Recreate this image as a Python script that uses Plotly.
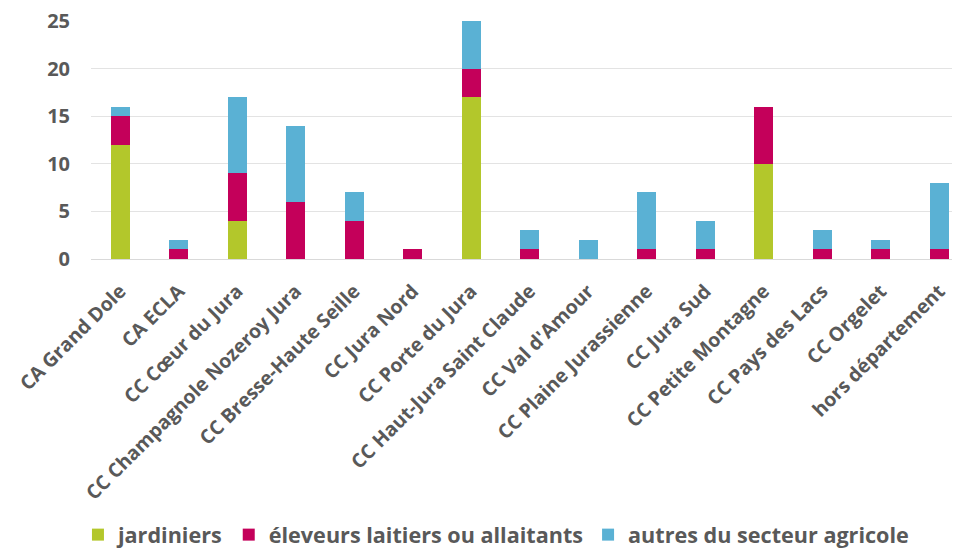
import plotly.graph_objects as go

categories = ["CA Grand Dole", "CA ECLA", "CC Cœur du Jura", "CC Champagnole Nozeroy Jura",
              "CC Bresse-Haute Seille", "CC Jura Nord", "CC Porte du Jura",
              "CC Haut-Jura Saint Claude", "CC Val d'Amour", "CC Plaine Jurassienne",
              "CC Jura Sud", "CC Petite Montagne", "CC Pays des Lacs", "CC Orgelet",
              "hors département"]
jardiniers = [12, 0, 4, 0, 0, 0, 17, 0, 0, 0, 0, 10, 0, 0, 0]
eleveurs = [3, 1, 5, 6, 4, 1, 3, 1, 0, 1, 1, 6, 1, 1, 1]
autres = [1, 1, 8, 8, 3, 0, 5, 2, 2, 6, 3, 0, 2, 1, 7]
y_ticks = [0, 5, 10, 15, 20, 25]

series = [
    ("jardiniers", jardiniers, "#B3C72B"),
    ("éleveurs laitiers ou allaitants", eleveurs, "#C4005A"),
    ("autres du secteur agricole", autres, "#5AB1D4"),
]

fig = go.Figure()
for name, vals, col in series:
    fig.add_trace(go.Bar(x=categories, y=vals, name=name, marker=dict(color=col, line=dict(width=0))))

font_family = "Open Sans"
fig.update_layout(
    barmode="stack",
    bargap=0.68,
    width=960, height=549,
    margin=dict(l=83, r=8, t=13, b=298, autoexpand=False),
    paper_bgcolor="white", plot_bgcolor="white",
    font=dict(family=font_family, color="#595959", size=18, weight="bold"),
    legend=dict(orientation="h", x=0.466, xanchor="center", y=-1.16, yanchor="middle",
                font=dict(size=21.6, color="#595959", weight="bold"), itemwidth=30,
                traceorder="normal"),
    xaxis=dict(tickangle=-45, tickfont=dict(size=19.5, weight="bold", color="#595959"),
               range=[-0.5, 14.355], showgrid=False, showline=False, ticks="",
               ticklabelstandoff=16, fixedrange=True),
    yaxis=dict(range=[0, 25], tickvals=y_ticks, gridcolor="#E3E3E3", gridwidth=1,
               tickfont=dict(size=20, weight="bold", color="#595959"), zeroline=True,
               zerolinecolor="#D9D9D9", zerolinewidth=1, ticks="",
               ticklabelstandoff=20, ticklabeloverflow="allow"),
)

fig.write_html("out.html")
